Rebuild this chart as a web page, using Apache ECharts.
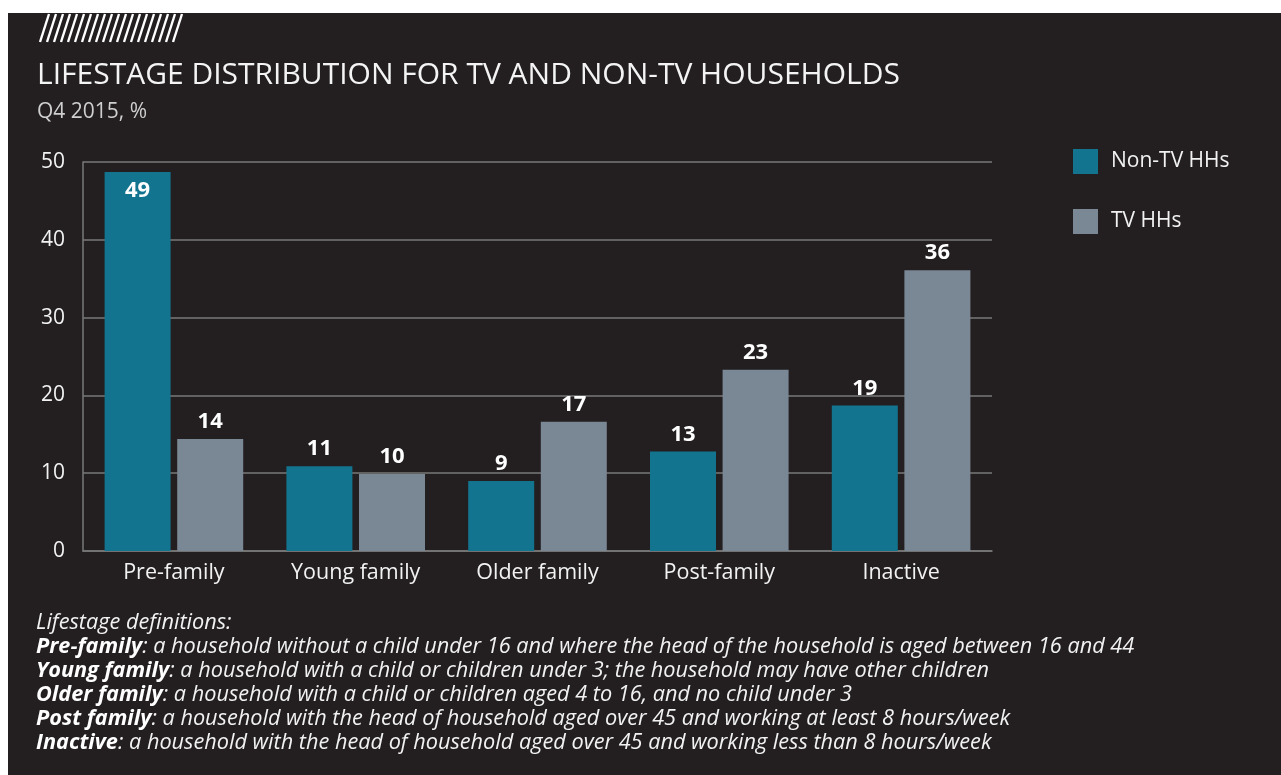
<!DOCTYPE html>
<html>
<head>
<meta charset="utf-8">
<script src="https://cdn.jsdelivr.net/npm/echarts@6/dist/echarts.min.js"></script>
<style>
html,body{margin:0;padding:0;background:#ffffff;width:1281px;height:775px;overflow:hidden;}
#chart{position:absolute;left:8px;top:13px;width:1273px;height:762px;}
</style>
</head>
<body>
<div id="chart"></div>
<script>
const categories = ['Pre-family', 'Young family', 'Older family', 'Post-family', 'Inactive'];
const nonTvValues = [48.7, 10.9, 9.0, 12.8, 18.7];
const tvValues = [14.4, 9.9, 16.6, 23.3, 36.1];
const seriesNames = ['Non-TV HHs', 'TV HHs'];
const yTicks = [0, 10, 20, 30, 40, 50];
const titleText = 'LIFESTAGE DISTRIBUTION FOR TV AND NON-TV HOUSEHOLDS';
const subtitleText = 'Q4 2015, %';
const notes = [
  ['', 'Lifestage definitions:'],
  ['Pre-family', ': a household without a child under 16 and where the head of the household is aged between 16 and 44'],
  ['Young family', ': a household with a child or children under 3; the household may have other children'],
  ['Older family', ': a household with a child or children aged 4 to 16, and no child under 3'],
  ['Post family', ': a household with the head of household aged over 45 and working at least 8 hours/week'],
  ['Inactive', ': a household with the head of household aged over 45 and working less than 8 hours/week']
];

const FONT = 'Open Sans';
const chart = echarts.init(document.getElementById('chart'), null, {renderer: 'canvas'});

const graphics = [];
// hatch decoration
for (let i = 0; i < 20; i++) {
  const x0 = 32 + i * 7;
  graphics.push({
    type: 'line',
    shape: {x1: x0, y1: 29, x2: x0 + 9, y2: 1},
    style: {stroke: '#ffffff', lineWidth: 2.4}
  });
}
notes.forEach((n, i) => {
  graphics.push({
    type: 'text',
    left: 28,
    top: 599 + i * 24,
    style: {
      text: (n[0] ? '{b|' + n[0] + '}' : '') + '{n|' + n[1] + '}',
      rich: {
        b: {fontFamily: FONT, fontSize: 21.7, fontStyle: 'italic', fontWeight: 'bold', fill: '#ffffff'},
        n: {fontFamily: FONT, fontSize: 21.7, fontStyle: 'italic', fill: '#f2f2f2'}
      }
    }
  });
});

function labelFmt(p) { return Math.round(p.value); }

const option = {
  backgroundColor: '#231f20',
  animation: false,
  title: {
    text: titleText,
    subtext: subtitleText,
    left: 24,
    top: 42,
    itemGap: 12,
    textStyle: {fontFamily: FONT, fontSize: 30, fontWeight: 'normal', color: '#f4f4f4'},
    subtextStyle: {fontFamily: FONT, fontSize: 21, color: '#cfcfcf'}
  },
  legend: {
    orient: 'vertical',
    left: 1060,
    top: 131,
    itemWidth: 25,
    itemHeight: 25,
    itemGap: 35,
    icon: 'rect',
    data: seriesNames,
    textStyle: {fontFamily: FONT, fontSize: 21, color: '#f2f2f2', padding: [0, 0, 0, 8]}
  },
  grid: {left: 75, top: 149, right: 289, bottom: 224, containLabel: false},
  xAxis: {
    type: 'category',
    data: categories,
    axisLine: {show: true, lineStyle: {color: '#7a7a7a', width: 1.5}},
    axisTick: {show: false},
    axisLabel: {fontFamily: FONT, fontSize: 21.5, color: '#f2f2f2', margin: 11}
  },
  yAxis: {
    type: 'value',
    min: yTicks[0],
    max: yTicks[yTicks.length - 1],
    interval: 10,
    axisLine: {show: true, lineStyle: {color: '#7a7a7a', width: 1.5}},
    axisTick: {show: false},
    splitLine: {show: true, lineStyle: {color: '#7a7a7a', width: 1.5}},
    axisLabel: {fontFamily: FONT, fontSize: 21, color: '#f2f2f2', margin: 18}
  },
  series: [
    {
      name: seriesNames[0],
      type: 'bar',
      barWidth: 66,
      barGap: '10%',
      itemStyle: {color: '#13748f'},
      label: {show: true, position: 'top', distance: 6, fontFamily: FONT, fontSize: 22, fontWeight: 'bold', color: '#ffffff', formatter: labelFmt},
      data: nonTvValues.map((v, i) => i === 0 ? {value: v, label: {position: 'insideTop', distance: 8}} : v)
    },
    {
      name: seriesNames[1],
      type: 'bar',
      barWidth: 66,
      barGap: '10%',
      itemStyle: {color: '#7a8794'},
      label: {show: true, position: 'top', distance: 6, fontFamily: FONT, fontSize: 22, fontWeight: 'bold', color: '#ffffff', formatter: labelFmt},
      data: tvValues
    }
  ],
  graphic: graphics
};
chart.setOption(option);
</script>
</body>
</html>
